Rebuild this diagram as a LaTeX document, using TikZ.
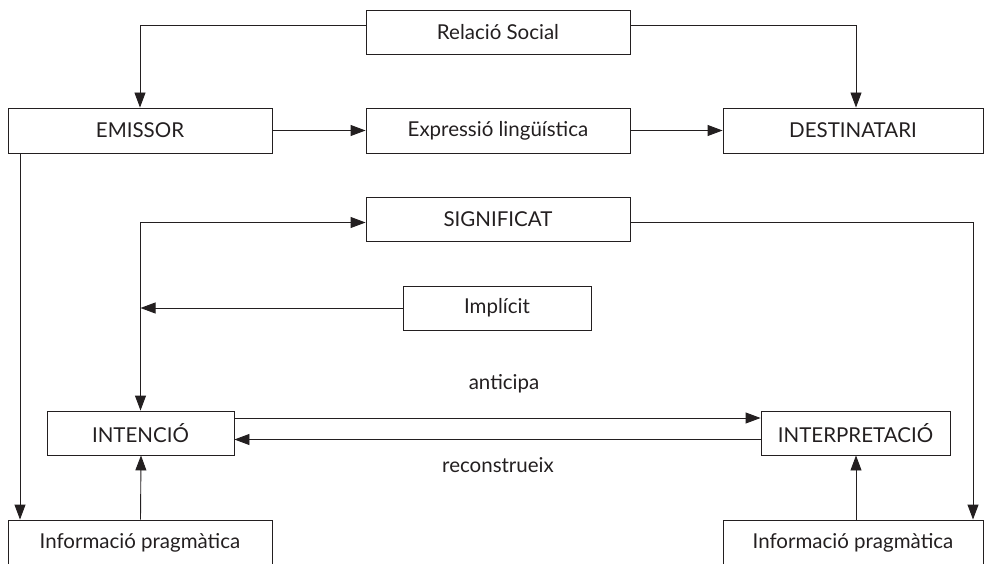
\documentclass[tikz,border=0pt]{standalone}
\usepackage{fontspec}
\setmainfont{Lato}
\usetikzlibrary{arrows.meta}
\definecolor{ink}{HTML}{231F20}
\begin{document}
\begin{tikzpicture}[x=1pt,y=-1pt,
  box/.style={draw=ink,line width=0.9pt,rectangle,inner sep=0pt,text=ink,font=\fontsize{20.5}{22}\selectfont},
  lbl/.style={inner sep=0pt,text=ink,font=\fontsize{20.5}{22}\selectfont},
  arr/.style={draw=ink,line width=0.9pt,-{Triangle[length=15pt,width=11pt]}},
  ln/.style={draw=ink,line width=0.9pt}]
\path[use as bounding box] (0,0) rectangle (984,564);
\clip (0,0) rectangle (984,564);
\node[box,minimum width=264,minimum height=44] (rel) at (498,32) {Relació Social};
\node[box,minimum width=264,minimum height=45] (emi) at (140,130.5) {EMISSOR};
\node[box,minimum width=264,minimum height=45] (exp) at (498,130.5) {Expressió lingüística};
\node[box,minimum width=260,minimum height=45] (dest) at (853,130.5) {DESTINATARI};
\node[box,minimum width=264,minimum height=44] (sig) at (498,219) {SIGNIFICAT};
\node[box,minimum width=188,minimum height=44] (impl) at (497,308) {Implícit};
\node[box,minimum width=187,minimum height=44] (int) at (140.5,433) {INTENCIÓ};
\node[box,minimum width=189,minimum height=44] (interp) at (855.5,433) {INTERPRETACIÓ};
\node[box,minimum width=264,minimum height=46] (infoL) at (140,543) {Informació pragmàtica};
\node[box,minimum width=260,minimum height=46] (infoR) at (853,543) {Informació pragmàtica};
\node[lbl] (ant) at (504,384) {anticipa};
\node[lbl] (rec) at (498,465) {reconstrueix};
% connectors
\draw[arr] ([yshift=7pt]rel.west) -| (emi.north);
\draw[arr] ([yshift=7pt]rel.east) -| ([xshift=3pt]dest.north);
\draw[arr] (emi.east) -- (exp.west);
\draw[arr] (exp.east) -- (dest.west);
\draw[arr] ([xshift=-120pt]emi.south) -- ([xshift=-120pt]infoL.north);
\draw[ln,{Triangle[length=15pt,width=11pt]}-{Triangle[length=15pt,width=11pt]}] ([yshift=-3.5pt]sig.west) -| (int.north);
\draw[arr] (impl.west) -- (impl.west -| int.north);
\draw[arr] ([yshift=-3.5pt]sig.east) -| ([xshift=120pt]infoR.north);
\draw[arr] ([yshift=15pt]int.east) -- ([yshift=15pt]interp.west);
\draw[arr] ([yshift=-6.5pt]interp.west) -- ([yshift=-6.5pt]int.east);
\draw[arr] ([xshift=0.5pt]infoL.north) -- ([xshift=0.5pt]int.south);
\draw[arr] ([xshift=3pt]infoR.north) -- ([xshift=3pt]infoR.north |- interp.south);
\end{tikzpicture}
\end{document}
